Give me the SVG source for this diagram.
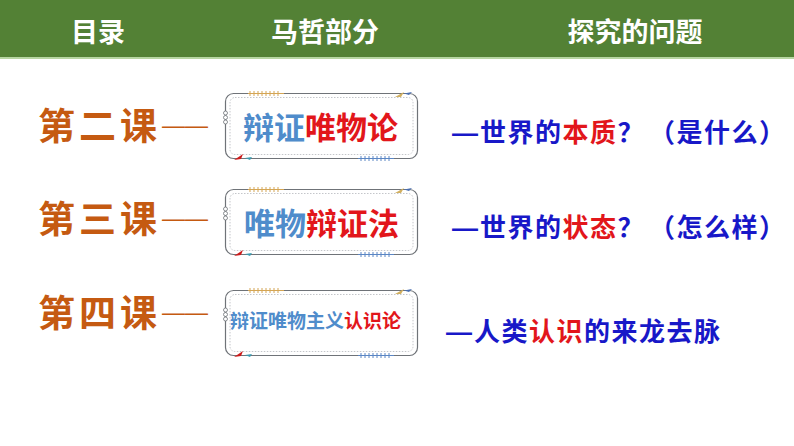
<svg xmlns="http://www.w3.org/2000/svg" xmlns:xlink="http://www.w3.org/1999/xlink" width="794" height="446" viewBox="0 0 794 446">
<style>
.hdr{font-family:"Noto Sans CJK SC","Noto Sans",sans-serif;font-weight:700;font-size:27px;fill:#ffffff;text-anchor:middle}
.les{font-family:"Noto Sans CJK SC",sans-serif;font-weight:700;font-size:37px;fill:#C55A11;letter-spacing:4px}
.dash{font-family:"Liberation Sans",sans-serif;font-weight:400;font-size:23px;fill:#C55A11}
.box{font-family:"Noto Sans CJK SC",serif;font-weight:700;font-size:31px}
.boxs{font-family:"Noto Sans CJK SC",serif;font-weight:700;font-size:19px}
.q{font-family:"Noto Sans CJK SC",sans-serif;font-weight:700;font-size:26px;fill:#1818C8;letter-spacing:1.5px}
.qd{font-family:"Liberation Sans",sans-serif;font-weight:700;letter-spacing:0px}
.bl{fill:#4F8CCB}
.rd{fill:#E2161B}
.qr{fill:#E2161B}
</style>
<defs>
<g id="frame">
<rect x="225.5" y="0.5" width="192" height="65" rx="8" fill="#ffffff" stroke="#6f7378" stroke-width="1.2"/>
<rect x="230" y="4.5" width="183" height="57" rx="5" fill="none" stroke="#b5b8bc" stroke-width="0.8" stroke-dasharray="1.5 1.5"/>
<g stroke="#d4a554" stroke-width="1">
<line x1="248" y1="0.5" x2="284" y2="0.5"/>
<path d="M250 -2v5M254 -2v5M258 -2v5M262 -2v5M266 -2v5M270 -2v5M274 -2v5M278 -2v5"/>
</g>
<g stroke="#5b86c4" stroke-width="1">
<line x1="358" y1="65.5" x2="394" y2="65.5"/>
<path d="M361 63v5M365 63v5M369 63v5M373 63v5M377 63v5M381 63v5M385 63v5M389 63v5"/>
</g>
<path d="M395 4 L404 -1 L401 4 Z" fill="#d2b060"/>
<path d="M404 0.5 L412 -1 L409 2 Z" fill="#4a6fb0"/>
<path d="M234 67 L243 61 L241 66 Z" fill="#cc1b1b"/>
<path d="M245 65 L252 64 L250 67 Z" fill="#3a9bb0"/>
<g fill="#ffffff" stroke="#6f7378" stroke-width="0.8">
<circle cx="225.5" cy="20" r="2"/>
<circle cx="225.5" cy="24.5" r="2"/>
<circle cx="225.5" cy="29" r="2"/>
</g>
</g>
</defs>
<rect x="0" y="0" width="794" height="446" fill="#ffffff"/>
<g id="header">
<rect x="0" y="0" width="794" height="57" fill="#538135"/>
<rect x="0" y="57" width="794" height="2" fill="#b7d6a2"/>
<text class="hdr" x="98" y="42">目录</text>
<text class="hdr" x="325" y="42">马哲部分</text>
<text class="hdr" x="635" y="42">探究的问题</text>
</g>
<g id="connectors">
<text class="dash" x="162" y="133">——</text>
<text class="dash" x="162" y="226">——</text>
<text class="dash" x="162" y="320">——</text>
</g>
<g id="lesson2">
<text class="les" x="38" y="140">第二课</text>
</g>
<g id="lesson3">
<text class="les" x="38" y="233">第三课</text>
</g>
<g id="lesson4">
<text class="les" x="38" y="327">第四课</text>
</g>
<g id="box2">
<use xlink:href="#frame" transform="translate(0,93)"/>
<text class="box" x="243" y="139"><tspan class="bl">辩证</tspan><tspan class="rd">唯物论</tspan></text>
</g>
<g id="box3">
<use xlink:href="#frame" transform="translate(0,189)"/>
<text class="box" x="244" y="235"><tspan class="bl">唯物</tspan><tspan class="rd">辩证法</tspan></text>
</g>
<g id="box4">
<use xlink:href="#frame" transform="translate(0,290)"/>
<text class="boxs" x="230" y="328"><tspan class="bl">辩证唯物主义</tspan><tspan class="rd">认识论</tspan></text>
</g>
<g id="q2">
<text class="q" x="452" y="142"><tspan class="qd">—</tspan><tspan x="480">世界的</tspan><tspan class="qr">本质</tspan>？<tspan x="649">（是什么）</tspan></text>
</g>
<g id="q3">
<text class="q" x="452" y="237"><tspan class="qd">—</tspan><tspan x="480">世界的</tspan><tspan class="qr">状态</tspan>？<tspan x="649">（怎么样）</tspan></text>
</g>
<g id="q4">
<text class="q" x="446" y="341"><tspan class="qd">—</tspan><tspan x="474">人类</tspan><tspan class="qr">认识</tspan>的来龙去脉</text>
</g>
</svg>
